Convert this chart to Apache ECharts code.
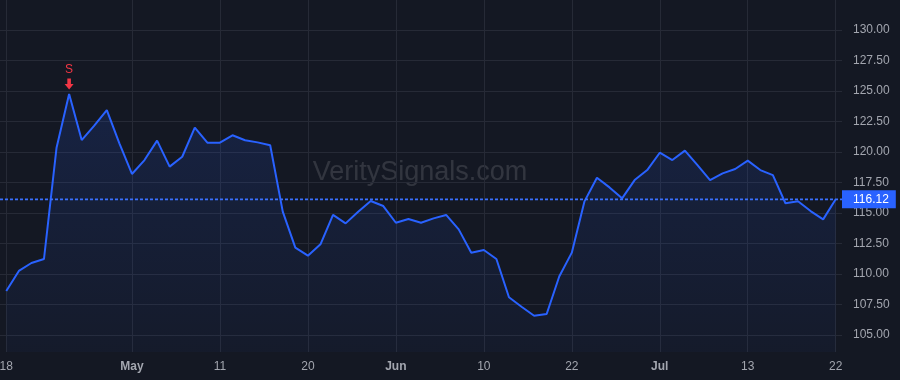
<!DOCTYPE html>
<html>
<head>
<meta charset="utf-8">
<script src="https://cdn.jsdelivr.net/npm/echarts@6/dist/echarts.min.js"></script>
<style>
html,body{margin:0;padding:0;background:#141823;}
#chart{width:900px;height:380px;}
</style>
</head>
<body>
<div id="chart"></div>
<script>
// Trading days (2022-04-18 .. 2022-07-22)
const dates = [
 '2022-04-18','2022-04-19','2022-04-20','2022-04-21','2022-04-22','2022-04-25','2022-04-26','2022-04-27','2022-04-28','2022-04-29',
 '2022-05-02','2022-05-03','2022-05-04','2022-05-05','2022-05-06','2022-05-09','2022-05-10','2022-05-11','2022-05-12','2022-05-13',
 '2022-05-16','2022-05-17','2022-05-18','2022-05-19','2022-05-20','2022-05-23','2022-05-24','2022-05-25','2022-05-26','2022-05-27','2022-05-31',
 '2022-06-01','2022-06-02','2022-06-03','2022-06-06','2022-06-07','2022-06-08','2022-06-09','2022-06-10','2022-06-13','2022-06-14',
 '2022-06-15','2022-06-16','2022-06-17','2022-06-21','2022-06-22','2022-06-23','2022-06-24','2022-06-27','2022-06-28','2022-06-29','2022-06-30',
 '2022-07-01','2022-07-05','2022-07-06','2022-07-07','2022-07-08','2022-07-11','2022-07-12','2022-07-13','2022-07-14','2022-07-15',
 '2022-07-18','2022-07-19','2022-07-20','2022-07-21','2022-07-22'
];
const closes = [
 108.61,110.25,110.90,111.23,120.35,124.75,120.98,122.16,123.44,120.71,
 118.20,119.34,120.93,118.80,119.61,121.99,120.76,120.76,121.37,120.96,
 120.79,120.55,115.11,112.16,111.50,112.43,114.84,114.15,115.11,115.98,115.57,
 114.20,114.51,114.20,114.56,114.84,113.66,111.75,111.97,111.23,108.09,
 107.32,106.58,106.72,109.80,111.75,115.93,117.89,117.10,116.20,117.70,118.52,
 119.94,119.34,120.11,118.93,117.70,118.25,118.61,119.29,118.52,118.11,
 115.80,115.96,115.16,114.48,116.12
];
const tickDates = ['2022-04-18','2022-05-02','2022-05-11','2022-05-20','2022-06-01','2022-06-10','2022-06-22','2022-07-01','2022-07-13','2022-07-22'];
const tickLabels = ['18','May','11','20','Jun','10','22','Jul','13','22'];
const monthLabels = ['May','Jun','Jul'];
const yTicks = [105,107.5,110,112.5,115,117.5,120,122.5,125,127.5,130];
const yMin = 103.607, yMax = 132.459;
const signalDates = ['2022-04-25'];
const signalTypes = ['S'];
const watermark = 'VeritySignals.com';

const tickIdx = tickDates.map(d => dates.indexOf(d));
const seriesData = closes.map((v, i) => [i, v]);
const lastValue = closes[closes.length - 1];
const xMin = -0.5, xMax = dates.length - 0.5;

const chart = echarts.init(document.getElementById('chart'), null, {renderer: 'canvas'});
const gridColor = '#262a36';
const textColor = '#a3a6af';
const font = "'Liberation Sans', Arial, sans-serif";

chart.setOption({
  backgroundColor: '#141823',
  animation: false,
  graphic: [{
    type: 'text', x: 420, y: 173, z: 0, silent: true,
    style: {text: watermark, fill: 'rgba(255,255,255,0.13)', font: "27px 'Liberation Sans', Arial, sans-serif", textAlign: 'center', textVerticalAlign: 'middle'}
  }],
  grid: {left: 0, right: 58, top: 0, bottom: 28, containLabel: false, outerBoundsMode: 'none'},
  xAxis: {
    type: 'value', min: xMin, max: xMax,
    axisLine: {show: false},
    axisTick: {show: false, customValues: tickIdx},
    splitLine: {show: true, lineStyle: {color: gridColor, width: 1}},
    axisLabel: {
      customValues: tickIdx, margin: 9, color: textColor, fontSize: 12, fontFamily: font,
      formatter: v => {
        const k = tickIdx.indexOf(Math.round(v));
        if (k < 0) return '';
        const t = tickLabels[k];
        return monthLabels.includes(t) ? '{b|' + t + '}' : t;
      },
      rich: {b: {fontWeight: 'bold', color: textColor, fontSize: 12, fontFamily: font}}
    }
  },
  yAxis: {
    type: 'value', position: 'right', min: yMin, max: yMax,
    axisLine: {show: false},
    axisTick: {show: false, customValues: yTicks},
    splitLine: {show: true, lineStyle: {color: gridColor, width: 1}},
    axisLabel: {customValues: yTicks, margin: 11, color: textColor, fontSize: 12, fontFamily: font,
      formatter: v => v.toFixed(2)}
  },
  series: [{
    type: 'line', data: seriesData, symbol: 'none', z: 3,
    lineStyle: {color: '#2962ff', width: 2},
    areaStyle: {color: new echarts.graphic.LinearGradient(0, 0, 0, 1, [
      {offset: 0, color: 'rgba(41,98,255,0.21)'},
      {offset: 1, color: 'rgba(41,98,255,0.05)'}
    ])},
    markPoint: {
      silent: true,
      symbol: 'path://M3,0 H7 V6 H10 L5,12 L0,6 H3 Z',
      symbolSize: [9, 11], symbolOffset: [0, -10],
      itemStyle: {color: '#f23645'},
      label: {show: true, position: 'top', distance: 3, color: '#f23645', fontSize: 12, fontFamily: font,
        formatter: p => p.name},
      data: signalDates.map((d, k) => {
        const i = dates.indexOf(d);
        return {name: signalTypes[k], coord: [i, closes[i]]};
      })
    }
  }, {
    type: 'line', z: 4, silent: true, symbol: 'none',
    data: [[xMin, lastValue], [xMax, lastValue]],
    itemStyle: {color: '#2962ff'},
    lineStyle: {color: '#3a70ff', type: [3, 2], width: 1.6, opacity: 1},
    endLabel: {show: true, distance: 0, formatter: p => p.value[1].toFixed(2),
      color: '#ffffff', backgroundColor: '#2962ff', padding: [3, 7, 2, 11], fontSize: 12, fontFamily: font, lineHeight: 13}
  }]
});
</script>
</body>
</html>
